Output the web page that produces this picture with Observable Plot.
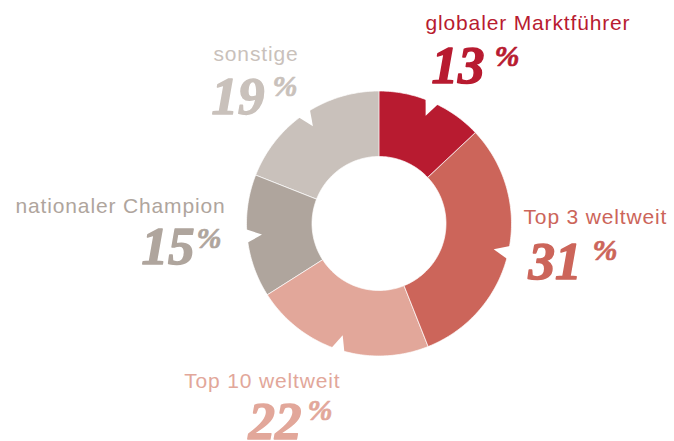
<!DOCTYPE html>
<html>
<head>
<meta charset="utf-8">
<script src="https://cdn.jsdelivr.net/npm/d3@7"></script>
<script src="https://cdn.jsdelivr.net/npm/@observablehq/plot@0.6"></script>
<style>
  html, body { margin: 0; padding: 0; background: #fff; }
  g[font-size="21"] text { letter-spacing: 0.85px; }
</style>
</head>
<body>
<div id="chart"></div>
<script>
// ---- data ----
const categories = ["globaler Marktführer", "Top 3 weltweit", "Top 10 weltweit", "nationaler Champion", "sonstige"];
const shares = [13, 31, 22, 15, 19];
const colors = ["#b81b30", "#cc655a", "#e2a79a", "#afa59d", "#c9c1bb"];

// ---- layout (pixels) ----
const W = 674, H = 441;
const cx = 378.5, cy = 223, R = 132.5, r0 = 67;
// label anchors: [labelX, labelY, anchor, numEndX, numY, pctX, pctY]
const layout = {
  "globaler Marktführer": [425, 29, "start", 484, 82, 494, 65],
  "Top 3 weltweit":       [523, 223, "start", 581, 278, 592, 259],
  "Top 10 weltweit":      [340, 387, "end", 301, 438, 307, 419],
  "nationaler Champion":  [225, 212, "end", 194, 263, 196, 247],
  "sonstige":             [298, 60, "end", 264, 113, 272, 95]
};

const total = d3.sum(shares);
const pt = (a, rad) => ({x: cx + rad * Math.sin(a), y: cy - rad * Math.cos(a)});

// segment polygons from shares
const segPts = [];
const notchPts = [];
let acc = 0;
categories.forEach((c, i) => {
  const a0 = acc / total * 2 * Math.PI;
  acc += shares[i];
  const a1 = acc / total * 2 * Math.PI;
  const n = Math.max(8, Math.ceil((a1 - a0) / (Math.PI / 180)));
  for (let k = 0; k <= n; k++) segPts.push({cat: c, ...pt(a0 + (a1 - a0) * k / n, R)});
  for (let k = n; k >= 0; k--) segPts.push({cat: c, ...pt(a0 + (a1 - a0) * k / n, r0)});
  const am = (a0 + a1) / 2, d = 3.3 * Math.PI / 180;
  notchPts.push({cat: c, ...pt(am - d, R + 3)});
  notchPts.push({cat: c, ...pt(am, R - 15)});
  notchPts.push({cat: c, ...pt(am + d, R + 3)});
});

const labels = categories.map((c, i) => ({cat: c, share: shares[i], L: layout[c]}));
const labelsStart = labels.filter(d => d.L[2] === "start");
const labelsEnd = labels.filter(d => d.L[2] === "end");

const colorScale = {domain: categories, range: colors};
const sans = "'Liberation Sans', Arial, Helvetica, sans-serif";
const serif = "'Liberation Serif', 'Times New Roman', serif";

const chart = Plot.plot({
  width: W, height: H,
  margin: 0,
  x: {domain: [0, W], range: [0, W], axis: null},
  y: {domain: [0, H], range: [0, H], axis: null},
  color: colorScale,
  style: {background: "#fff"},
  marks: [
    Plot.line(segPts, {x: "x", y: "y", z: "cat", fill: "cat", stroke: "white", strokeWidth: 0.7, curve: "linear-closed"}),
    Plot.line(notchPts, {x: "x", y: "y", z: "cat", fill: "white", stroke: "none", curve: "linear-closed"}),
    Plot.text(labelsStart, {
      x: d => d.L[0], y: d => d.L[1], text: "cat", fill: "cat",
      textAnchor: "start", lineAnchor: "bottom",
      fontFamily: sans, fontSize: 21
    }),
    Plot.text(labelsEnd, {
      x: d => d.L[0], y: d => d.L[1], text: "cat", fill: "cat",
      textAnchor: "end", lineAnchor: "bottom",
      fontFamily: sans, fontSize: 21
    }),
    Plot.text(labels, {
      x: d => d.L[3], y: d => d.L[4], text: d => String(d.share), fill: "cat", stroke: "cat", strokeWidth: 1.5,
      textAnchor: "end", lineAnchor: "bottom",
      fontFamily: serif, fontSize: 53, fontWeight: "bold", fontStyle: "italic"
    }),
    Plot.text(labels, {
      x: d => d.L[5], y: d => d.L[6], text: d => "%", fill: "cat", stroke: "cat", strokeWidth: 0.7,
      textAnchor: "start", lineAnchor: "bottom",
      fontFamily: serif, fontSize: 30, fontWeight: "bold", fontStyle: "italic"
    })
  ]
});
document.getElementById("chart").appendChild(chart);
</script>
</body>
</html>
